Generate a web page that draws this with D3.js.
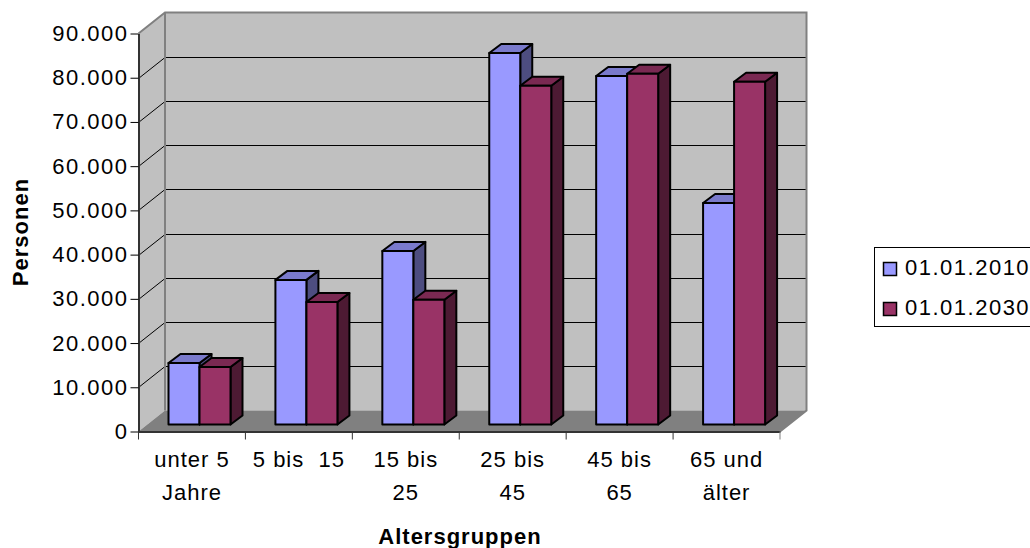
<!DOCTYPE html>
<html>
<head>
<meta charset="utf-8">
<script src="https://cdn.jsdelivr.net/npm/d3@7"></script>
<style>
  html, body { margin: 0; padding: 0; background: #fff; overflow: hidden; }
  text { font-family: "Liberation Sans", Arial, sans-serif; fill: #000; }
</style>
</head>
<body>
<div id="chart"></div>
<script>
const categories = ['unter 5\nJahre', '5 bis  15', '15 bis\n25', '25 bis\n45', '45 bis\n65', '65 und\nälter'];
const series2010 = [13900, 32700, 39250, 84000, 78800, 50100];
const series2030 = [13000, 27700, 28200, 76600, 79300, 77500];
const seriesNames = ['01.01.2010', '01.01.2030'];
const yTicks = [0, 10000, 20000, 30000, 40000, 50000, 60000, 70000, 80000, 90000];

const width = 1030, height = 548;
const plot = {left: 138.5, right: 780, top: 33.5, bottom: 431.5};
const depth = {x: 26.5, y: -21};       // wall offset from the front plane
const barDepth = {x: 12, y: -9};
const barBase = 424.5;
const barWidth = 31;
const colors = [
  {front: '#9999ff', top: '#7a7acc', side: '#4d4d80'},
  {front: '#993366', top: '#7a2952', side: '#4d1a33'}
];

const de = d3.formatLocale({decimal: ',', thousands: '.', grouping: [3], currency: ['', ' €']});

const svg = d3.select('#chart').append('svg')
    .attr('width', width)
    .attr('height', height)
    .style('display', 'block');

const yScale = d3.scaleLinear().domain([0, 90000]).range([plot.bottom, plot.top]);
const xScale = d3.scaleBand().domain(categories).range([plot.left, plot.right]);

// walls
svg.append('polygon')
    .attr('points', [
      [plot.left, plot.top], [plot.left + depth.x, plot.top + depth.y],
      [plot.left + depth.x, plot.bottom + depth.y], [plot.left, plot.bottom]
    ].join(' '))
    .attr('fill', '#c0c0c0');
svg.append('rect')
    .attr('x', plot.left + depth.x)
    .attr('y', plot.top + depth.y)
    .attr('width', plot.right - plot.left)
    .attr('height', plot.bottom - plot.top)
    .attr('fill', '#c0c0c0');

// gridlines, one oblique piece on the side wall and one along the back
const grid = svg.append('g').attr('stroke', '#000').attr('stroke-width', 1).attr('fill', 'none');
yTicks.slice(1, -1).forEach((t) => {
  const y = Math.round(yScale(t)) + 0.5;
  grid.append('path')
      .attr('d', `M${plot.left},${y}L${plot.left + depth.x},${y + depth.y}H${plot.right + depth.x}`);
});

// floor
svg.append('polygon')
    .attr('points', [
      [plot.left, plot.bottom], [plot.left + depth.x, plot.bottom + depth.y],
      [plot.right + depth.x, plot.bottom + depth.y], [plot.right, plot.bottom]
    ].join(' '))
    .attr('fill', '#808080');

// wall outline
svg.append('path')
    .attr('d', `M${plot.left},${plot.top}L${plot.left + depth.x},${plot.top + depth.y}` +
               `H${plot.right + depth.x}V${plot.bottom + depth.y}L${plot.right},${plot.bottom}` +
               `M${plot.left + depth.x},${plot.top + depth.y}V${plot.bottom + depth.y}`)
    .attr('fill', 'none')
    .attr('stroke', '#808080')
    .attr('stroke-width', 2);

// bars: same value scale as the axis, just shifted back onto the bar plane
const heightOf = (v) => plot.bottom - yScale(v);

function drawBar(g, cat, value, idx) {
  const x0 = xScale(cat) + 30 + idx * barWidth;
  const x1 = x0 + barWidth;
  const yTop = barBase - heightOf(value);
  const c = colors[idx];
  const dx = barDepth.x, dy = barDepth.y;
  g.append('polygon')
      .attr('points', [[x1, yTop], [x1 + dx, yTop + dy], [x1 + dx, barBase + dy], [x1, barBase]].join(' '))
      .attr('fill', c.side);
  g.append('polygon')
      .attr('points', [[x0, yTop], [x0 + dx, yTop + dy], [x1 + dx, yTop + dy], [x1, yTop]].join(' '))
      .attr('fill', c.top);
  g.append('rect')
      .attr('x', x0)
      .attr('y', yTop)
      .attr('width', barWidth)
      .attr('height', barBase - yTop)
      .attr('fill', c.front);
}

const bars = svg.append('g')
    .attr('stroke', '#000')
    .attr('stroke-width', 2)
    .attr('stroke-linejoin', 'round');
categories.forEach((cat, i) => {
  drawBar(bars, cat, series2010[i], 0);
  drawBar(bars, cat, series2030[i], 1);
});

// y axis
const yAxis = d3.axisLeft(yScale)
    .tickValues(yTicks)
    .tickFormat(de.format(',d'))
    .tickSize(8)
    .tickSizeOuter(0)
    .tickPadding(2);
const yG = svg.append('g')
    .attr('transform', `translate(${plot.left},0)`)
    .call(yAxis);
yG.select('.domain').attr('stroke', '#333').attr('stroke-width', 2);
yG.selectAll('text')
    .style('font-size', '22px')
    .style('letter-spacing', '1.5px')
    .style('font-family', '"Liberation Sans", Arial, sans-serif');

// x axis, labels from the band scale, ticks on the band edges
const xAxis = d3.axisBottom(xScale).tickSize(0).tickPadding(0).tickFormat('');
const xG = svg.append('g')
    .attr('transform', `translate(0,${plot.bottom})`)
    .call(xAxis);
xG.select('.domain').attr('stroke', '#333').attr('stroke-width', 2);
xG.selectAll('.edge')
    .data(categories.map((c) => xScale(c)).concat(plot.right))
    .enter().append('line')
    .attr('class', 'edge')
    .attr('x1', (d) => d)
    .attr('x2', (d) => d)
    .attr('y1', 0)
    .attr('y2', 8)
    .attr('stroke', (d, i) => i === categories.length ? '#808080' : '#333');

categories.forEach((cat) => {
  const label = svg.append('text')
      .attr('text-anchor', 'middle')
      .style('font-size', '22px')
      .style('letter-spacing', '1px');
  cat.split('\n').forEach((line, i) => {
    label.append('tspan')
        .attr('x', xScale(cat) + xScale.bandwidth() / 2)
        .attr('y', 467 + i * 33)
        .attr('xml:space', 'preserve')
        .style('white-space', 'pre')
        .text(line);
  });
});

// axis titles
svg.append('text')
    .attr('transform', 'translate(28,232) rotate(-90)')
    .attr('text-anchor', 'middle')
    .style('font-size', '22px')
    .style('font-weight', 'bold')
    .style('letter-spacing', '1px')
    .text('Personen');
svg.append('text')
    .attr('x', 460)
    .attr('y', 544)
    .attr('text-anchor', 'middle')
    .style('font-size', '22px')
    .style('font-weight', 'bold')
    .style('letter-spacing', '1px')
    .text('Altersgruppen');

// legend
const legend = svg.append('g');
legend.append('rect')
    .attr('x', 874.5)
    .attr('y', 247.5)
    .attr('width', 170)
    .attr('height', 79)
    .attr('fill', '#fff')
    .attr('stroke', '#000')
    .attr('stroke-width', 1);
seriesNames.forEach((name, i) => {
  legend.append('rect')
      .attr('x', 883.5)
      .attr('y', 262.5 + i * 40)
      .attr('width', 13)
      .attr('height', 13)
      .attr('fill', colors[i].front)
      .attr('stroke', '#000')
      .attr('stroke-width', 1.5);
  legend.append('text')
      .attr('x', 905)
      .attr('y', 275 + i * 40)
      .style('font-size', '22px')
      .style('letter-spacing', '1.5px')
      .text(name);
});
</script>
</body>
</html>
